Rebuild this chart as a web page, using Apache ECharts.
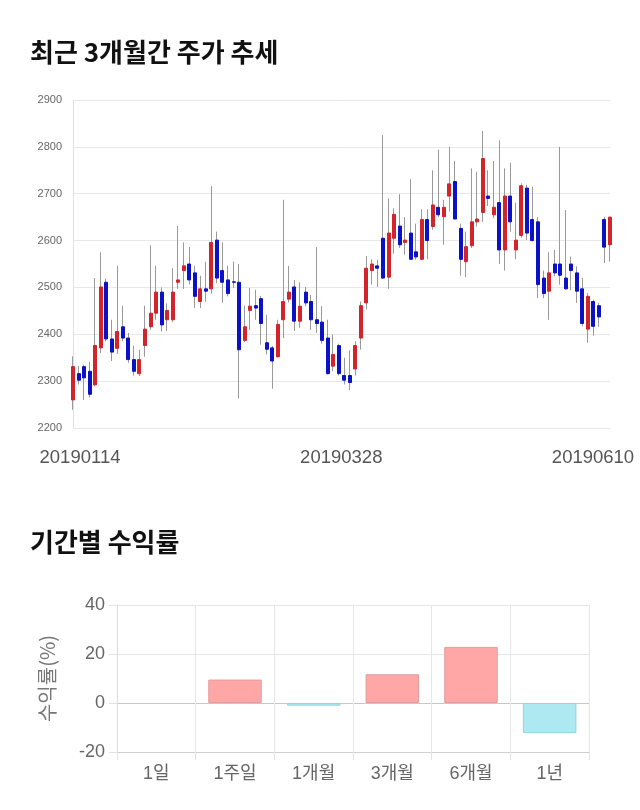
<!DOCTYPE html>
<html><head><meta charset="utf-8">
<script src="https://cdn.jsdelivr.net/npm/echarts@6/dist/echarts.min.js"></script>
<style>html,body{margin:0;padding:0;background:#fff}#c{width:640px;height:810px}</style>
</head><body><div id="c"></div>
<script>
const dates = ['20190114','20190115','20190116','20190117','20190118','20190121','20190122','20190123','20190124','20190125','20190128','20190129','20190130','20190131',
'20190201','20190207','20190208','20190211','20190212','20190213','20190214','20190215','20190218','20190219','20190220','20190221','20190222','20190225','20190226','20190227','20190228',
'20190304','20190305','20190306','20190307','20190308','20190311','20190312','20190313','20190314','20190315','20190318','20190319','20190320','20190321','20190322','20190325','20190326','20190327','20190328','20190329',
'20190401','20190402','20190403','20190404','20190405','20190408','20190409','20190410','20190411','20190412','20190415','20190416','20190417','20190418','20190419','20190422','20190423','20190424','20190425','20190426','20190429','20190430',
'20190502','20190503','20190507','20190508','20190509','20190510','20190513','20190514','20190515','20190516','20190517','20190520','20190521','20190522','20190523','20190524','20190527','20190528','20190529','20190530','20190531',
'20190603','20190604','20190605','20190610'];
const opens  = [2260,2316,2331,2321,2292,2371,2511,2390,2370,2416,2392,2346,2316,2376,2416,2445,2490,2431,2431,2511,2536,2550,2531,2470,2497,2497,2601,2536,2516,2512,2511,2387,2451,2461,2476,2382,2371,2352,2431,2475,2501,2428,2490,2470,2431,2426,2392,2332,2376,2312,2312,2326,2392,2467,2536,2546,2605,2522,2605,2631,2596,2616,2576,2560,2645,2630,2671,2651,2695,2726,2626,2555,2589,2640,2660,2695,2655,2681,2580,2695,2580,2611,2712,2645,2640,2520,2492,2550,2550,2520,2550,2531,2497,2411,2470,2461,2645,2591];
const closes = [2331,2302,2307,2272,2376,2501,2390,2362,2406,2392,2346,2321,2346,2411,2445,2490,2420,2451,2490,2516,2546,2516,2481,2497,2492,2596,2520,2511,2487,2511,2367,2416,2460,2456,2423,2368,2343,2421,2470,2490,2428,2460,2467,2431,2423,2387,2316,2357,2316,2302,2297,2376,2461,2541,2550,2541,2520,2616,2656,2591,2601,2560,2565,2645,2600,2676,2655,2671,2721,2646,2560,2587,2640,2646,2775,2690,2671,2580,2695,2640,2601,2717,2616,2600,2506,2487,2531,2531,2526,2497,2536,2492,2423,2481,2417,2437,2586,2650];
const lows   = [2239,2293,2260,2265,2289,2360,2385,2343,2358,2385,2339,2312,2311,2352,2410,2431,2406,2407,2426,2497,2497,2506,2456,2456,2470,2487,2509,2467,2481,2499,2263,2383,2409,2431,2378,2357,2284,2350,2392,2468,2407,2414,2460,2409,2403,2380,2314,2321,2312,2293,2281,2312,2367,2453,2506,2501,2518,2497,2572,2584,2570,2559,2559,2559,2560,2623,2650,2591,2662,2646,2525,2522,2584,2630,2640,2674,2648,2550,2536,2619,2560,2606,2601,2598,2477,2477,2431,2524,2506,2495,2494,2467,2417,2382,2397,2416,2552,2555];
const highs  = [2353,2332,2335,2341,2520,2575,2519,2431,2546,2461,2403,2376,2367,2461,2590,2546,2500,2466,2541,2631,2596,2586,2546,2525,2555,2716,2619,2596,2546,2555,2550,2461,2499,2495,2482,2442,2375,2431,2687,2546,2516,2511,2501,2484,2586,2460,2431,2400,2380,2350,2366,2385,2470,2567,2560,2559,2825,2690,2669,2699,2650,2731,2636,2667,2667,2750,2794,2687,2800,2770,2636,2619,2754,2747,2834,2750,2770,2814,2754,2766,2681,2722,2719,2715,2650,2536,2575,2580,2800,2665,2566,2545,2520,2488,2474,2467,2651,2651];
const priceTicks = [2200, 2900, 100];
const shownDates = ['20190114','20190328','20190610'];

const periods = ['1일','1주일','1개월','3개월','6개월','1년'];
const returns = [0, 9.56, -1.09, 11.74, 22.9, -12.3];
const returnTicks = [-20, 40, 20];

const full = dates.map((d,i)=>[opens[i],closes[i],lows[i],highs[i]]);
const bodies = dates.map((d,i)=>[opens[i],closes[i],Math.min(opens[i],closes[i]),Math.max(opens[i],closes[i])]);
const returnItems = returns.map(v=>({
  value:v,
  itemStyle: v===0 ? {borderWidth:0, color:'rgba(0,0,0,0)'} :
             v>0 ? {color:'#ffa7a7', borderColor:'#e39c9c', borderWidth:1} :
                   {color:'#aee9f2', borderColor:'#95d3dd', borderWidth:1}
}));

const RED='#d3232b', BLUE='#0b12c6';
const latin = "'Liberation Sans','Noto Sans CJK KR',sans-serif";
const titleStyle = {fontFamily:"'Noto Sans CJK KR'",fontSize:26,fontWeight:'bold',color:'#111'};

const chart = echarts.init(document.getElementById('c'), null, {renderer:'canvas'});
chart.setOption({
  animation:false,
  textStyle:{fontFamily:latin},
  title:[
    {text:'최근 3개월간 주가 추세', left:25, top:34, textStyle:titleStyle},
    {text:'기간별 수익률', left:25, top:524, textStyle:titleStyle}
  ],
  grid:[
    {left:73, top:100, width:537, height:328},
    {left:117, top:605, width:472, height:147}
  ],
  xAxis:[
    {type:'category', gridIndex:0, data:dates, boundaryGap:false,
     axisLine:{show:false}, axisTick:{show:false}, splitLine:{show:false},
     axisLabel:{fontSize:18.5, color:'#555', margin:21,
       interval:(i,v)=>shownDates.indexOf(v)>=0,
       formatter:(v)=>{const k=shownDates.indexOf(v); return '{'+['a','b','c'][k]+'|'+v+'}';},
       rich:{a:{fontSize:18.5,color:'#555',padding:[0,0,0,14]},b:{fontSize:18.5,color:'#555',padding:[0,6,0,0]},c:{fontSize:18.5,color:'#555',padding:[0,34,0,0]}}
     }},
    {type:'category', gridIndex:1, data:periods, boundaryGap:true,
     axisLine:{show:true,onZero:false,lineStyle:{color:'#d0d0d0'}},
     axisTick:{show:true,length:8,lineStyle:{color:'#e3e3e3'}},
     splitLine:{show:true,lineStyle:{color:'#e6e6e6'}},
     axisLabel:{fontSize:18,color:'#666',margin:13}}
  ],
  yAxis:[
    {type:'value', gridIndex:0, min:priceTicks[0], max:priceTicks[1], interval:priceTicks[2],
     axisLine:{show:true,lineStyle:{color:'#e0e0e0'}}, axisTick:{show:false},
     splitLine:{lineStyle:{color:'#e8e8e8'}},
     axisLabel:{fontSize:11,color:'#666',margin:11,formatter:(v)=>String(v)}},
    {type:'value', gridIndex:1, min:returnTicks[0], max:returnTicks[1], interval:returnTicks[2],
     name:'수익률(%)', nameLocation:'middle', nameRotate:90, nameGap:60,
     nameTextStyle:{fontSize:20,color:'#777',fontFamily:"'Noto Sans CJK KR'"},
     axisLine:{show:true,lineStyle:{color:'#dcdcdc'}},
     axisTick:{show:true,length:8,lineStyle:{color:'#e3e3e3'}},
     splitLine:{lineStyle:{color:['#d0d0d0','#c8c8c8','#e6e6e6','#e6e6e6']}},
     axisLabel:{fontSize:18,color:'#666',margin:12}}
  ],
  series:[
    {type:'candlestick', xAxisIndex:0, yAxisIndex:0, data:full, barWidth:1,
     itemStyle:{color:'#999',color0:'#999',borderColor:'#999',borderColor0:'#999',borderWidth:1}},
    {type:'candlestick', xAxisIndex:0, yAxisIndex:0, data:bodies, barWidth:3.5,
     itemStyle:{color:RED,color0:BLUE,borderColor:RED,borderColor0:BLUE,borderWidth:1}},
    {type:'bar', xAxisIndex:1, yAxisIndex:1, data:returnItems, barWidth:'68%'}
  ]
});
</script></body></html>
